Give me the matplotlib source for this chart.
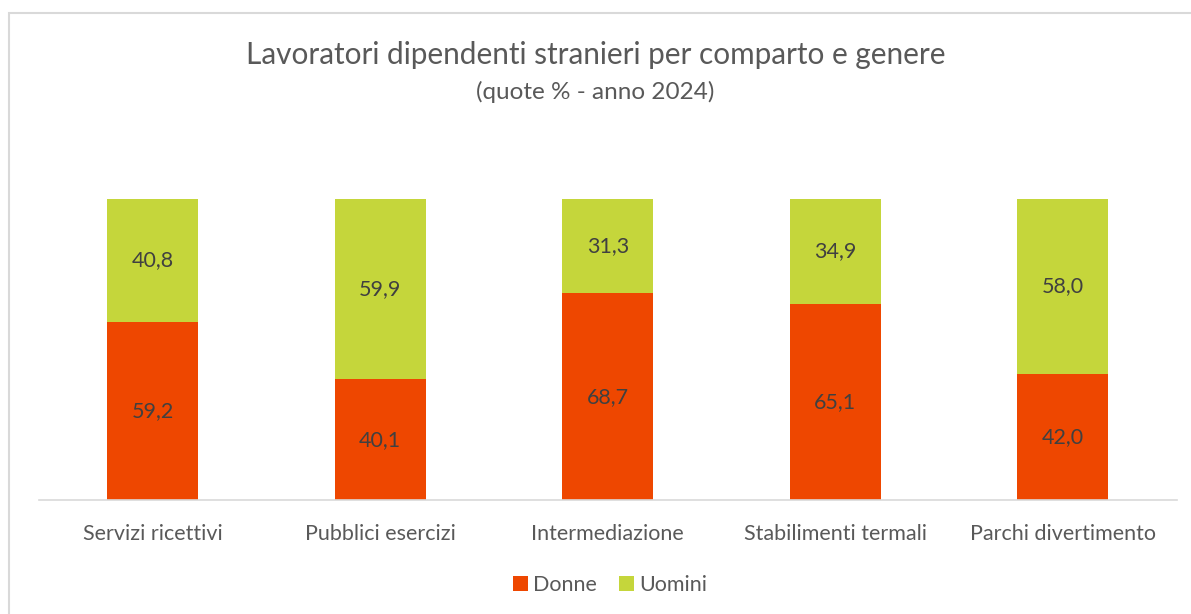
import matplotlib.pyplot as plt
from matplotlib.patches import Rectangle

categories = ['Servizi ricettivi', 'Pubblici esercizi', 'Intermediazione',
              'Stabilimenti termali', 'Parchi divertimento']
donne = [59.2, 40.1, 68.7, 65.1, 42.0]
uomini = [40.8, 59.9, 31.3, 34.9, 58.0]

orange = '#EE4700'
green = '#C5D63B'
txt = '#595959'

plt.rcParams['font.family'] = ['Lato', 'DejaVu Sans']

fig = plt.figure(figsize=(11.91, 6.14), dpi=100)
ax = fig.add_axes([39 / 1191, 1 - 500 / 614, 1137.5 / 1191, 301 / 614])

x = range(len(categories))
b1 = ax.bar(x, donne, width=0.4, color=orange, label='Donne')
b2 = ax.bar(x, uomini, width=0.4, bottom=donne, color=green, label='Uomini')

for i in x:
    ax.text(i, donne[i] / 2, f'{donne[i]:.1f}'.replace('.', ','),
            ha='center', va='center', fontsize=15.5, color='#404040')
    ax.text(i, donne[i] + uomini[i] / 2, f'{uomini[i]:.1f}'.replace('.', ','),
            ha='center', va='center', fontsize=15.5, color='#404040')

ax.set_xlim(-0.5, len(categories) - 0.5)
ax.set_ylim(0, 100)
ax.set_xticks(list(x))
ax.set_xticklabels(categories, fontsize=15.5, color=txt)
ax.tick_params(axis='x', length=0, pad=17)
ax.set_yticks([])
for s in ['top', 'right', 'left']:
    ax.spines[s].set_visible(False)
ax.spines['bottom'].set_color('#D9D9D9')
ax.spines['bottom'].set_linewidth(1.2)

fig.text(0.5, 1 - 55 / 614, 'Lavoratori dipendenti stranieri per comparto e genere',
         ha='center', va='center', fontsize=21.4, color=txt)
fig.text(0.5, 1 - 92 / 614, '(quote % - anno 2024)',
         ha='center', va='center', fontsize=17.5, color=txt)

fig.legend(handles=[b1, b2], labels=['Donne', 'Uomini'], loc='center',
           bbox_to_anchor=(610 / 1191, 1 - 585 / 614), ncol=2, frameon=False,
           fontsize=15.5, labelcolor=txt, handlelength=0.7, handleheight=0.7,
           handletextpad=0.25, columnspacing=1.0)

fig.patches.append(Rectangle((9 / 1191, -0.05), 1.1, 1 - 13 / 614 + 0.05,
                             transform=fig.transFigure, fill=False,
                             edgecolor='#D9D9D9', linewidth=1.5))

fig.savefig('out.png', dpi=100)
